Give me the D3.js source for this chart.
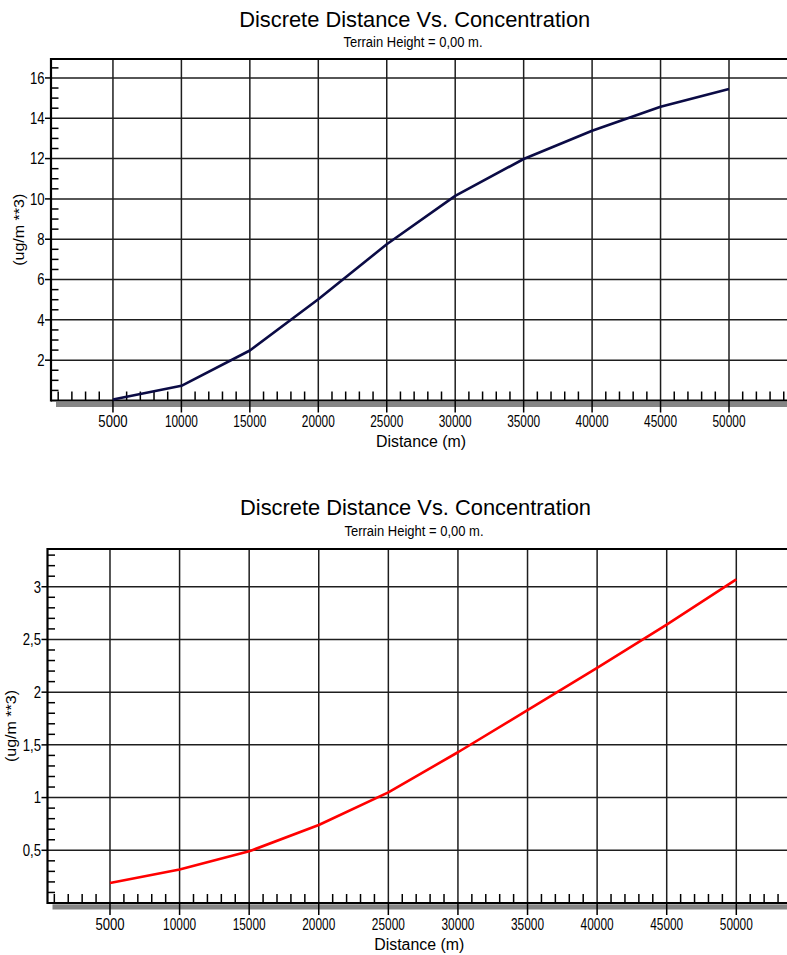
<!DOCTYPE html>
<html>
<head>
<meta charset="utf-8">
<script src="https://cdn.jsdelivr.net/npm/d3@7"></script>
<style>
  html, body { margin: 0; padding: 0; background: #fff; }
  svg { display: block; }
</style>
</head>
<body>
<svg id="chart" width="787" height="955"></svg>
<script>
// ---------------- DATA ----------------
const distances = [5000, 10000, 15000, 20000, 25000, 30000, 35000, 40000, 45000, 50000];
const concentrationTop = [0.05, 0.73, 2.48, 5.02, 7.75, 10.15, 11.98, 13.38, 14.57, 15.45];
const concentrationBottom = [0.19, 0.317, 0.49, 0.74, 1.05, 1.43, 1.83, 2.23, 2.64, 3.07];
const xTickValues = [5000, 10000, 15000, 20000, 25000, 30000, 35000, 40000, 45000, 50000];
const yTickValuesTop = [2, 4, 6, 8, 10, 12, 14, 16];
const yTickValuesBottom = [0.5, 1, 1.5, 2, 2.5, 3];
const titleText = "Discrete Distance Vs. Concentration";
const subtitleText = "Terrain Height = 0,00 m.";
const xTitleText = "Distance (m)";
const yTitleText = "(ug/m **3)";

// ---------------- LAYOUT ----------------
const W = 787;
const charts = [
  {
    values: concentrationTop, color: "#0b0b45",
    yMax: 16.94, yTicks: yTickValuesTop, yMinorStep: 0.5,
    left: 51, top: 59, bottom: 400.5, x0: 44.5, x50: 729,
    titleY: 26.5, subY: 47, xLabY: 426.8, xTitleY: 446.5, yTitleX: 19,
    titleX: 414.7, subX: 413
  },
  {
    values: concentrationBottom, color: "#ff0000",
    yMax: 3.358, yTicks: yTickValuesBottom, yMinorStep: 0.1,
    left: 47.5, top: 549, bottom: 903, x0: 40.4, x50: 736.3,
    titleY: 515, subY: 536, xLabY: 930, xTitleY: 949.5, yTitleX: 11,
    titleX: 415.5, subX: 414
  }
];

const svg = d3.select("#chart");
const fmt = v => String(v).replace(".", ",");
const NARROW = "'Liberation Sans Narrow', 'Arial Narrow', 'Liberation Sans', Arial, sans-serif";
const REG = "'Liberation Sans', Arial, sans-serif";
const gridColor = "#1e1e1e";
// narrow label widths (digit ~7.3px, comma ~3.7px)
const labelWidth = s => s.split("").reduce((a, ch) => a + (ch === "," ? 3.7 : 7.3), 0);

charts.forEach(c => {
  const g = svg.append("g");
  const x = d3.scaleLinear().domain([0, 50000]).range([c.x0, c.x50]);
  const y = d3.scaleLinear().domain([0, c.yMax]).range([c.bottom, c.top]);
  const right = W + 2;

  // titles
  g.append("text").attr("x", c.titleX).attr("y", c.titleY)
    .attr("text-anchor", "middle").attr("font-family", REG).attr("font-size", 22)
    .attr("textLength", 351).attr("lengthAdjust", "spacingAndGlyphs")
    .attr("fill", "#000").text(titleText);
  g.append("text").attr("x", c.subX).attr("y", c.subY)
    .attr("text-anchor", "middle").attr("font-family", NARROW).attr("font-size", 15.5)
    .attr("textLength", 139).attr("lengthAdjust", "spacingAndGlyphs")
    .attr("fill", "#000").text(subtitleText);

  // shadow under x axis
  g.append("rect").attr("x", c.left + 5).attr("y", c.bottom + 1.3)
    .attr("width", right - c.left - 5).attr("height", 5.2).attr("fill", "#858585");

  // vertical grid lines
  g.append("g").selectAll("line").data(xTickValues).join("line")
    .attr("x1", d => x(d)).attr("x2", d => x(d))
    .attr("y1", c.top).attr("y2", c.bottom)
    .attr("stroke", gridColor).attr("stroke-width", 1.5);
  // horizontal grid lines
  g.append("g").selectAll("line").data(c.yTicks).join("line")
    .attr("x1", c.left).attr("x2", right)
    .attr("y1", d => y(d)).attr("y2", d => y(d))
    .attr("stroke", gridColor).attr("stroke-width", 1.5);

  // top border
  g.append("line").attr("x1", c.left).attr("x2", right)
    .attr("y1", c.top).attr("y2", c.top)
    .attr("stroke", "#000").attr("stroke-width", 2);

  // minor y ticks
  const yMinor = d3.range(c.yMinorStep, c.yMax, c.yMinorStep)
    .filter(v => !c.yTicks.some(t => Math.abs(t - v) < 1e-6));
  g.append("g").selectAll("line").data(yMinor).join("line")
    .attr("x1", c.left).attr("x2", c.left + 7.5)
    .attr("y1", d => y(d)).attr("y2", d => y(d))
    .attr("stroke", "#000").attr("stroke-width", 1.5);
  // major y ticks (outward)
  g.append("g").selectAll("line").data(c.yTicks).join("line")
    .attr("x1", c.left - 6).attr("x2", c.left)
    .attr("y1", d => y(d)).attr("y2", d => y(d))
    .attr("stroke", "#000").attr("stroke-width", 1.5);
  // y tick labels
  g.append("g").selectAll("text").data(c.yTicks).join("text")
    .attr("x", c.left - 6.5).attr("y", d => y(d)).attr("dy", "0.36em")
    .attr("text-anchor", "end").attr("font-family", NARROW).attr("font-size", 16)
    .attr("textLength", d => labelWidth(fmt(d))).attr("lengthAdjust", "spacingAndGlyphs")
    .attr("fill", "#000").text(d => fmt(d));

  // minor x ticks
  const xMinor = d3.range(1000, 55000, 1000).filter(v => v % 5000 !== 0)
    .filter(v => x(v) > c.left + 2 && x(v) < W);
  g.append("g").selectAll("line").data(xMinor).join("line")
    .attr("x1", d => x(d)).attr("x2", d => x(d))
    .attr("y1", c.bottom).attr("y2", c.bottom - 9)
    .attr("stroke", "#000").attr("stroke-width", 1.5);
  // major x ticks (outward through shadow)
  g.append("g").selectAll("line").data(xTickValues).join("line")
    .attr("x1", d => x(d)).attr("x2", d => x(d))
    .attr("y1", c.bottom).attr("y2", c.bottom + 12)
    .attr("stroke", "#000").attr("stroke-width", 1.5);
  // x tick labels
  g.append("g").selectAll("text").data(xTickValues).join("text")
    .attr("x", d => x(d)).attr("y", c.xLabY)
    .attr("text-anchor", "middle").attr("font-family", NARROW).attr("font-size", 16)
    .attr("textLength", d => labelWidth(String(d)) - (String(d).length > 4 ? 3.5 : 0))
    .attr("lengthAdjust", "spacingAndGlyphs")
    .attr("fill", "#000").text(d => d);

  // axes lines
  g.append("line").attr("x1", c.left).attr("x2", right)
    .attr("y1", c.bottom).attr("y2", c.bottom)
    .attr("stroke", "#000").attr("stroke-width", 2.2);
  g.append("line").attr("x1", c.left).attr("x2", c.left)
    .attr("y1", c.top - 1).attr("y2", c.bottom + 1)
    .attr("stroke", "#000").attr("stroke-width", 2.2);

  // axis titles
  g.append("text").attr("x", (c.left + W) / 2 + 2).attr("y", c.xTitleY)
    .attr("text-anchor", "middle").attr("font-family", REG).attr("font-size", 16)
    .attr("textLength", 90).attr("lengthAdjust", "spacingAndGlyphs")
    .attr("fill", "#000").text(xTitleText);
  g.append("text")
    .attr("transform", `translate(${c.yTitleX},${(c.top + c.bottom) / 2}) rotate(-90)`)
    .attr("text-anchor", "middle").attr("dy", "0.36em")
    .attr("font-family", REG).attr("font-size", 15)
    .attr("textLength", 72).attr("lengthAdjust", "spacingAndGlyphs")
    .attr("fill", "#000").text(yTitleText);

  // data line
  const line = d3.line().x((d, i) => x(distances[i])).y(d => y(d));
  g.append("path").datum(c.values).attr("d", line)
    .attr("fill", "none").attr("stroke", c.color).attr("stroke-width", 2.6)
    .attr("stroke-linejoin", "round");
});
</script>
</body>
</html>
